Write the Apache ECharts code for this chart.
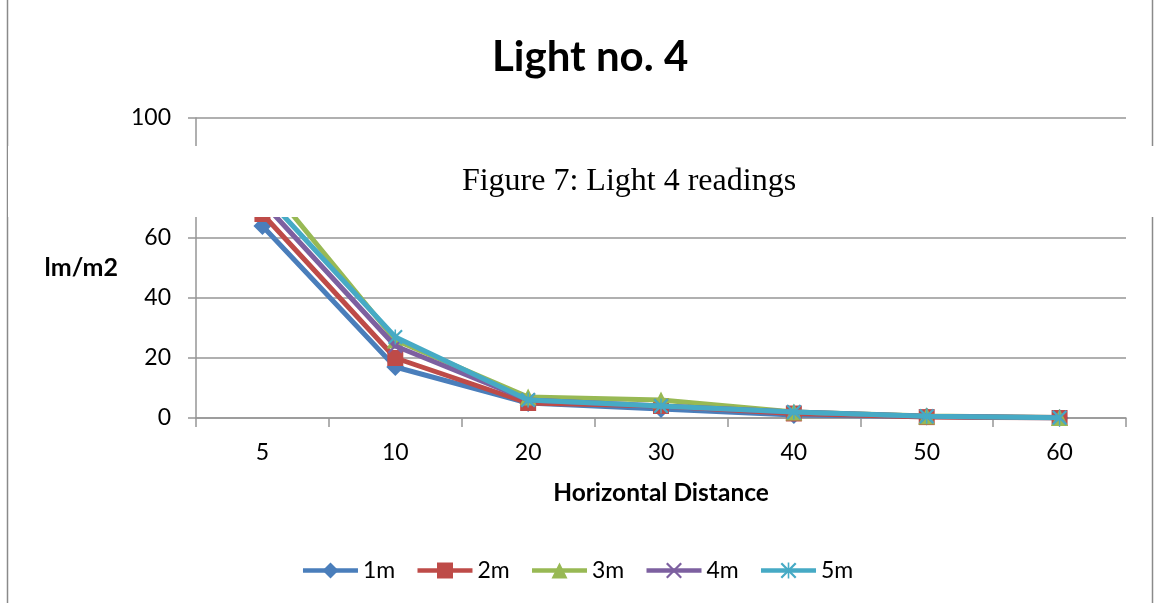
<!DOCTYPE html>
<html>
<head>
<meta charset="utf-8">
<script src="https://cdn.jsdelivr.net/npm/echarts@6/dist/echarts.min.js"></script>
<style>
html,body{margin:0;padding:0;background:#fff;}
#chart{width:1154px;height:603px;}
</style>
</head>
<body>
<div id="chart"></div>
<script>
const categories = ['5', '10', '20', '30', '40', '50', '60'];
const s1m = [64, 17, 5, 3, 1, 0.5, 0];
const s2m = [68, 20, 5, 4, 1.5, 0.3, 0];
const s3m = [80, 26, 7, 6, 2, 0.7, 0.2];
const s4m = [72, 24, 6, 4, 2, 0.6, 0.2];
const s5m = [75, 27, 6, 4, 2, 0.6, 0.1];
const seriesNames = ['1m', '2m', '3m', '4m', '5m'];
const colors = ['#4A7EBB', '#BE4B48', '#98B954', '#7D60A0', '#46AAC5'];

const xSym = 'path://M0,2 L2,0 L20,18 L18,20 Z M18,0 L20,2 L2,20 L0,18 Z';
const starSym = 'path://M0,2 L2,0 L20,18 L18,20 Z M18,0 L20,2 L2,20 L0,18 Z M9,0 L11,0 L11,20 L9,20 Z';
const symbols = ['diamond', 'rect', 'triangle', xSym, starSym];
const sizes = [18, 16, 17, 15, 15];
const data = [s1m, s2m, s3m, s4m, s5m];

const chart = echarts.init(document.getElementById('chart'));
const font = 'Lato, "Open Sans", sans-serif';
chart.setOption({
  animation: false,
  color: colors,
  title: {
    text: 'Light no. 4',
    left: 487,
    top: 31,
    textStyle: { fontFamily: font, fontSize: 42, fontWeight: 'bold', color: '#000' }
  },
  legend: {
    data: seriesNames,
    left: 'center',
    top: 554,
    itemWidth: 55,
    itemHeight: 20,
    itemGap: 20,
    lineStyle: { width: 4.5 },
    textStyle: { fontFamily: font, fontSize: 23, color: '#000' }
  },
  grid: { left: 196, right: 28, top: 118, bottom: 185, containLabel: false },
  xAxis: {
    type: 'category',
    data: categories,
    boundaryGap: true,
    name: 'Horizontal Distance',
    nameLocation: 'middle',
    nameGap: 63,
    nameTextStyle: { fontFamily: font, fontSize: 24.5, fontWeight: 'bold', color: '#000' },
    axisLine: { lineStyle: { color: '#969696', width: 1.5 } },
    axisTick: { show: true, length: 9, alignWithLabel: false, lineStyle: { color: '#969696', width: 1.5 } },
    axisLabel: { margin: 23, fontFamily: font, fontSize: 23, color: '#000' },
    splitLine: { show: false }
  },
  yAxis: {
    type: 'value',
    min: 0,
    max: 100,
    interval: 20,
    name: 'lm/m2',
    nameLocation: 'middle',
    nameRotate: 0,
    nameGap: 78,
    nameTextStyle: { fontFamily: font, fontSize: 25, fontWeight: 'bold', color: '#000', align: 'right' },
    axisLine: { show: true, lineStyle: { color: '#969696', width: 1.5 } },
    axisTick: { show: true, length: 8, inside: false, lineStyle: { color: '#969696', width: 1.5 } },
    axisLabel: { margin: 25, fontFamily: font, fontSize: 23, color: '#000' },
    splitLine: { show: true, lineStyle: { color: '#969696', width: 1.5 } }
  },
  series: seriesNames.map((n, i) => ({
    name: n,
    type: 'line',
    data: data[i],
    symbol: symbols[i],
    symbolSize: sizes[i],
    showAllSymbol: true,
    lineStyle: { width: 5, color: colors[i] },
    itemStyle: { color: colors[i], borderWidth: 0 },
    z: 2 + i
  })),
  graphic: [
    {
      type: 'rect',
      z: 100,
      silent: true,
      shape: { x: 7.5, y: -5, width: 1145, height: 620 },
      style: { fill: 'none', stroke: '#8a8a8a', lineWidth: 1.5 }
    },
    {
      type: 'rect',
      z: 101,
      silent: true,
      shape: { x: 8, y: 146, width: 1160, height: 71 },
      style: { fill: '#fff', stroke: 'none' }
    },
    {
      type: 'text',
      z: 102,
      silent: true,
      x: 629,
      y: 182,
      style: {
        text: 'Figure 7: Light 4 readings',
        fontFamily: '"Liberation Serif", "DejaVu Serif", serif',
        fontSize: 32,
        fill: '#000',
        align: 'center',
        verticalAlign: 'middle'
      }
    }
  ]
});
</script>
</body>
</html>
